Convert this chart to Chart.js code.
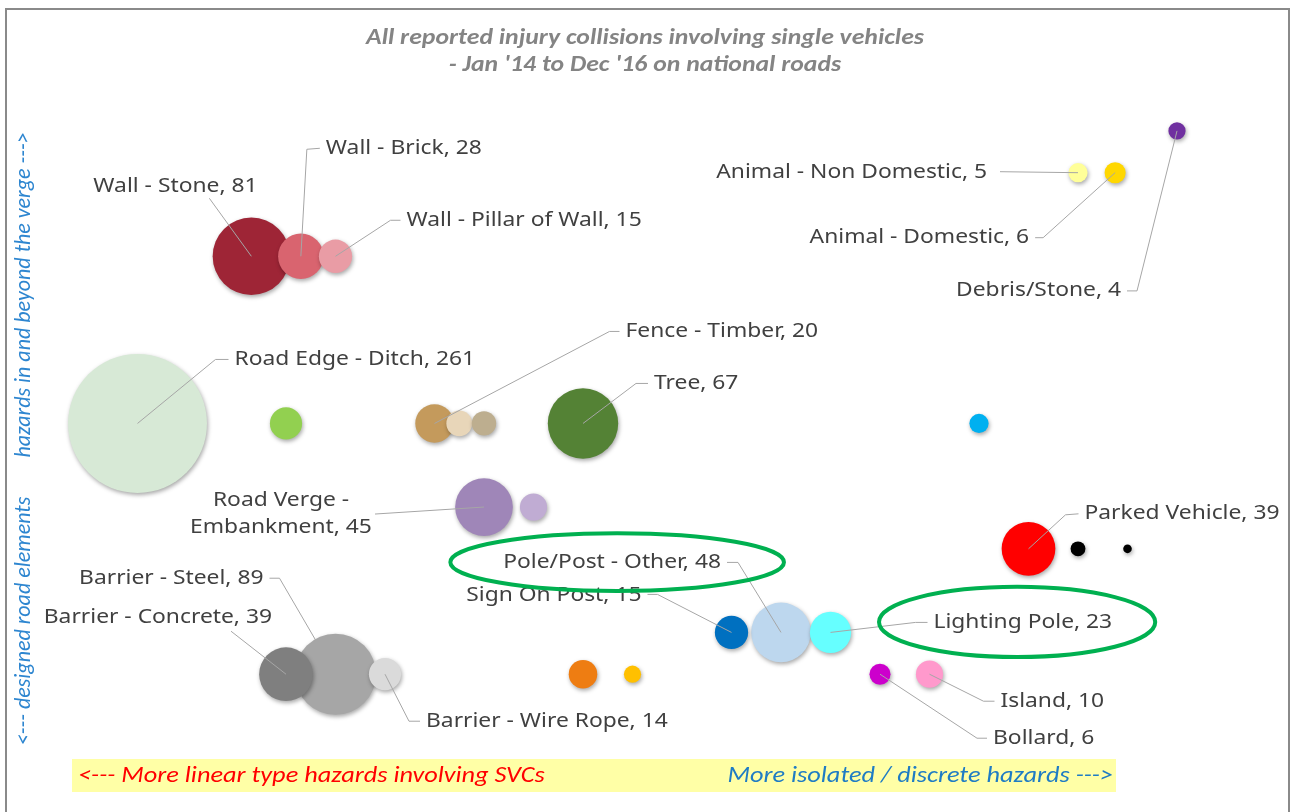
<!DOCTYPE html>
<html>
<head>
<meta charset="utf-8">
<style>
html, body { margin: 0; padding: 0; background: #ffffff; }
#caja { position: relative; width: 1293px; height: 812px; }
</style>
<script src="https://cdn.jsdelivr.net/npm/chart.js@4.4.1/dist/chart.umd.min.js"></script>
</head>
<body>
<div id="caja"><canvas id="burbujas" width="1293" height="812"></canvas></div>
<script>
// --- data ---
// null name = bubble drawn without a data label
var hazardNames = [
    "Wall - Stone", "Wall - Brick", "Wall - Pillar of Wall",
    "Road Edge - Ditch", null, "Fence - Timber", null, null, "Tree", null,
    "Road Verge - Embankment", null,
    "Parked Vehicle", null, null,
    "Sign On Post", "Pole/Post - Other", "Lighting Pole",
    "Barrier - Concrete", "Barrier - Steel", "Barrier - Wire Rope", null, null,
    "Bollard", "Island",
    "Animal - Non Domestic", "Animal - Domestic", "Debris/Stone"
];
var hazardX = [3.3, 4.3, 5, 1, 4, 7, 7.5, 8, 10, 18, 8, 9, 19, 20, 21, 13, 14, 15, 4, 5, 6, 10, 11, 16, 17, 20, 20.75, 22];
var hazardY = [11, 11, 11, 7, 7, 7, 7, 7, 7, 7, 5, 5, 4, 4, 4, 2, 2, 2, 1, 1, 1, 1, 1, 1, 1, 13, 13, 14];
var collisions = [81, 28, 15, 261, 14, 20, 9, 8, 67, 5, 45, 10, 39, 3, 1, 15, 48, 23, 39, 89, 14, 11, 4, 6, 10, 5, 6, 4];

var titleLines = ["All reported injury collisions involving single vehicles", "- Jan '14 to Dec '16 on national roads"];
var axisUp = "hazards in and beyond the verge --->";
var axisDown = "<--- designed road elements";
var footLeft = "<--- More linear type hazards involving SVCs";
var footRight = "More isolated / discrete hazards --->";

// --- styles ---
var bubbleColors = [
    "#9e2536", "#d9646f", "#e99ca5",
    "#d7e9d6", "#92d050", "#c49a5c", "#e8d6b9", "#bdae8f", "#548235", "#00b0f0",
    "#9f86b8", "#c0acd3",
    "#ff0000", "#000000", "#000000",
    "#0070c0", "#bdd7ee", "#66ffff",
    "#7f7f7f", "#a6a6a6", "#dadada", "#ee7d12", "#ffc000",
    "#cc00cc", "#ff99cc",
    "#ffff99", "#ffd700", "#7030a0"
];

// label placement in px from the bubble centre, and the leader line bends
var labelPos = {
    0:  { dx: -158, dy: -70, align: "left",   line: [[-42, -58]] },
    1:  { dx: 25,   dy: -108, align: "left",  line: [[19, -108], [6, -107]] },
    2:  { dx: 71,   dy: -36, align: "left",   line: [[65, -36], [55, -36]] },
    3:  { dx: 97,   dy: -64, align: "left",   line: [[91, -64], [78, -64]] },
    5:  { dx: 191,  dy: -92, align: "left",   line: [[185, -92], [175, -92]] },
    8:  { dx: 71,   dy: -40, align: "left",   line: [[65, -40], [53, -40]] },
    10: { dx: -203, dy: -7,  align: "center", line: [[-109, 7]], twoLines: true },
    12: { dx: 56,   dy: -35, align: "left",   line: [[50, -35], [37, -34]] },
    15: { dx: -90,  dy: -37, align: "right",  line: [[-84, -38], [-74, -38]] },
    16: { dx: -60,  dy: -70, align: "right",  line: [[-54, -70], [-43, -70]] },
    17: { dx: 103,  dy: -10, align: "left",   line: [[97, -10], [85, -10]] },
    18: { dx: -14,  dy: -57, align: "right",  line: [[-55, -43]] },
    19: { dx: -72,  dy: -96, align: "right",  line: [[-66, -96], [-56, -96]] },
    20: { dx: 41,   dy: 47,  align: "left",   line: [[35, 47], [24, 47]] },
    23: { dx: 113,  dy: 64,  align: "left",   line: [[107, 64], [97, 64]] },
    24: { dx: 71,   dy: 27,  align: "left",   line: [[65, 27], [54, 27]] },
    25: { dx: -91,  dy: 0,   align: "right",  line: [[-78, -1]] },
    26: { dx: -86,  dy: 65,  align: "right",  line: [[-80, 65], [-72, 65]] },
    27: { dx: -56,  dy: 160, align: "right",  line: [[-50, 160], [-40, 160]] }
};

// green call-out ellipses, in data units
var callouts = [
    { x: 10.69, y: 3.68, rx: 3.37, ry: 0.69 },
    { x: 18.77, y: 2.25, rx: 2.79, ry: 0.84 }
];

var fuenteEtiqueta = "19.5px 'Noto Sans', 'DejaVu Sans', sans-serif";
var fuenteCursiva = "'Carlito', 'Liberation Sans Narrow', 'DejaVu Sans Condensed', 'Liberation Sans', sans-serif";
var estiro = 1.17; // the original picture is a bit wider than tall

function radioDe(v) {
    return 4.3 * Math.sqrt(v);
}

// text stretched sideways like the source picture
function textoAncho(ctx, txt, x, y, align) {
    ctx.save();
    ctx.translate(x, y);
    ctx.scale(estiro, 1);
    ctx.textAlign = align;
    ctx.fillText(txt, 0, 0);
    ctx.restore();
}

// bigger bubbles first so the small ones sit on top
var orden = collisions.map(function(v, i) { return i; });
orden.sort(function(a, b) { return collisions[b] - collisions[a]; });

var puntos = orden.map(function(i) {
    return { x: hazardX[i], y: hazardY[i], r: radioDe(collisions[i]) };
});
var colores = orden.map(function(i) { return bubbleColors[i]; });

var decoraciones = {
    id: "decoraciones",
    beforeDatasetsDraw: function(chart) {
        var ctx = chart.ctx;
        ctx.save();
        ctx.shadowColor = "rgba(0,0,0,0.35)";
        ctx.shadowBlur = 4;
        ctx.shadowOffsetX = 1;
        ctx.shadowOffsetY = 2;
    },
    afterDatasetsDraw: function(chart) {
        var ctx = chart.ctx;
        ctx.restore();
        var sx = chart.scales.x, sy = chart.scales.y;

        // leader lines + labels
        ctx.save();
        ctx.font = fuenteEtiqueta;
        ctx.textBaseline = "middle";
        Object.keys(labelPos).forEach(function(k) {
            var i = parseInt(k, 10);
            var lp = labelPos[k];
            var cx = sx.getPixelForValue(hazardX[i]);
            var cy = sy.getPixelForValue(hazardY[i]);

            ctx.strokeStyle = "#a6a6a6";
            ctx.lineWidth = 1;
            ctx.beginPath();
            ctx.moveTo(cx + lp.line[0][0], cy + lp.line[0][1]);
            for (var j = 1; j < lp.line.length; j++) {
                ctx.lineTo(cx + lp.line[j][0], cy + lp.line[j][1]);
            }
            ctx.lineTo(cx, cy);
            ctx.stroke();

            ctx.fillStyle = "#404040";
            if (lp.twoLines) {
                textoAncho(ctx, "Road Verge -", cx + lp.dx, cy + lp.dy, lp.align);
                textoAncho(ctx, "Embankment, " + collisions[i], cx + lp.dx, cy + lp.dy + 27, lp.align);
            } else {
                textoAncho(ctx, hazardNames[i] + ", " + collisions[i], cx + lp.dx, cy + lp.dy, lp.align);
            }
        });

        // green ellipses
        ctx.strokeStyle = "#00b050";
        ctx.lineWidth = 4;
        callouts.forEach(function(e) {
            var ex = sx.getPixelForValue(e.x);
            var ey = sy.getPixelForValue(e.y);
            var rx = Math.abs(sx.getPixelForValue(e.x + e.rx) - ex);
            var ry = Math.abs(sy.getPixelForValue(e.y + e.ry) - ey);
            ctx.beginPath();
            ctx.ellipse(ex, ey, rx, ry, 0, 0, Math.PI * 2);
            ctx.stroke();
        });
        ctx.restore();
    },
    afterDraw: function(chart) {
        var ctx = chart.ctx;
        ctx.save();
        // outer frame
        ctx.strokeStyle = "#8a8a8a";
        ctx.lineWidth = 2;
        ctx.strokeRect(6, 9, 1283, 830);

        ctx.textBaseline = "middle";

        // title
        ctx.fillStyle = "#848484";
        ctx.font = "italic bold 22px " + fuenteCursiva;
        textoAncho(ctx, titleLines[0], 645, 38, "center");
        textoAncho(ctx, titleLines[1], 645, 65, "center");

        // vertical axis text
        ctx.fillStyle = "#2e86d0";
        ctx.font = "italic 22px " + fuenteCursiva;
        ctx.textAlign = "center";
        ctx.save();
        ctx.translate(24, 295);
        ctx.rotate(-Math.PI / 2);
        ctx.fillText(axisUp, 0, 0);
        ctx.restore();
        ctx.save();
        ctx.translate(24, 621);
        ctx.rotate(-Math.PI / 2);
        ctx.fillText(axisDown, 0, 0);
        ctx.restore();

        // bottom yellow note
        ctx.fillStyle = "#ffffa6";
        ctx.fillRect(72, 759, 1044, 33);
        ctx.font = "italic 22.5px " + fuenteCursiva;
        ctx.fillStyle = "#ff0000";
        textoAncho(ctx, footLeft, 78, 776, "left");
        ctx.fillStyle = "#1f7cc4";
        textoAncho(ctx, footRight, 1113, 776, "right");
        ctx.restore();
    }
};

var ctx = document.getElementById("burbujas").getContext("2d");
new Chart(ctx, {
    type: "bubble",
    data: {
        datasets: [{
            label: "Single vehicle collisions",
            data: puntos,
            backgroundColor: colores,
            borderColor: colores,
            borderWidth: 0,
            clip: false
        }]
    },
    options: {
        responsive: false,
        animation: false,
        events: [],
        layout: { autoPadding: false, padding: { left: 88, right: 17, top: 110, bottom: 96 } },
        scales: {
            x: { type: "linear", min: 0, max: 24, display: false },
            y: { type: "linear", min: 0, max: 14.5, display: false }
        },
        plugins: {
            legend: { display: false },
            tooltip: { enabled: false },
            title: { display: false }
        }
    },
    plugins: [decoraciones]
});
</script>
</body>
</html>
